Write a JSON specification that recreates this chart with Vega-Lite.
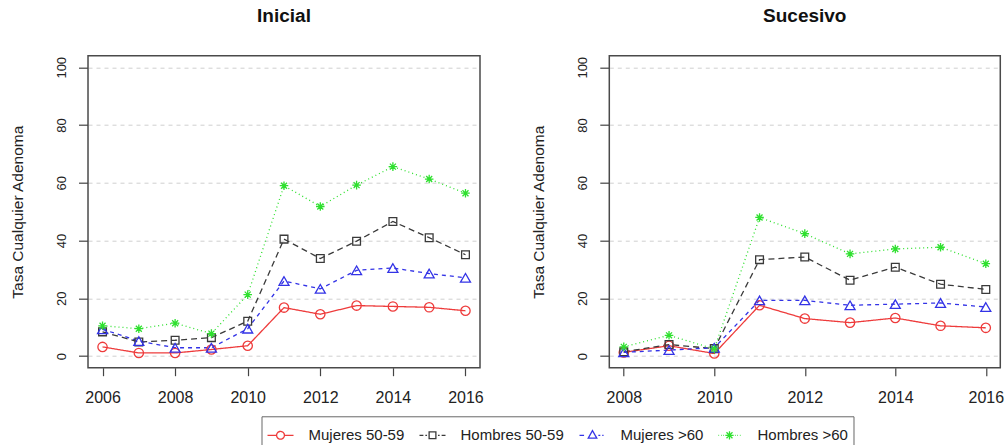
{
  "$schema": "https://vega.github.io/schema/vega-lite/v6.json",
  "background": "white",
  "padding": {"left": 9, "top": 5.7, "right": 0, "bottom": 0},
  "spacing": 129.3,
  "bounds": "flush",
  "config": {
    "font": "Liberation Sans",
    "view": {"stroke": "#4a4a4a", "strokeWidth": 1.5},
    "axis": {"domain": false, "tickColor": "#444444", "tickWidth": 1.2, "labelColor": "#222222", "titleColor": "#222222", "grid": false},
    "axisX": {"tickSize": 8, "labelFontSize": 16, "labelPadding": 14, "labelFlush": false},
    "axisY": {"tickSize": 9.5, "labelFontSize": 13, "labelAngle": 270, "labelAlign": "center", "labelBaseline": "bottom", "labelPadding": 10, "grid": true, "gridColor": "#cfcfcf", "gridDash": [4, 4], "gridWidth": 1, "titleFontSize": 15.5, "titleFontWeight": "normal", "titlePadding": 30.5},
    "title": {"fontSize": 19, "fontWeight": "bold", "color": "#111111", "anchor": "middle", "offset": 30, "baseline": "alphabetic"}
  },
  "datasets": {
    "tasas": [
      {"panel": "Inicial", "anio": 2006, "grupo": "Mujeres 50-59", "tasa": 3.2},
      {"panel": "Inicial", "anio": 2007, "grupo": "Mujeres 50-59", "tasa": 1.1},
      {"panel": "Inicial", "anio": 2008, "grupo": "Mujeres 50-59", "tasa": 1.1},
      {"panel": "Inicial", "anio": 2009, "grupo": "Mujeres 50-59", "tasa": 2.3},
      {"panel": "Inicial", "anio": 2010, "grupo": "Mujeres 50-59", "tasa": 3.6},
      {"panel": "Inicial", "anio": 2011, "grupo": "Mujeres 50-59", "tasa": 16.8},
      {"panel": "Inicial", "anio": 2012, "grupo": "Mujeres 50-59", "tasa": 14.5},
      {"panel": "Inicial", "anio": 2013, "grupo": "Mujeres 50-59", "tasa": 17.5},
      {"panel": "Inicial", "anio": 2014, "grupo": "Mujeres 50-59", "tasa": 17.2},
      {"panel": "Inicial", "anio": 2015, "grupo": "Mujeres 50-59", "tasa": 16.9},
      {"panel": "Inicial", "anio": 2016, "grupo": "Mujeres 50-59", "tasa": 15.7},
      {"panel": "Inicial", "anio": 2006, "grupo": "Hombres 50-59", "tasa": 8.4},
      {"panel": "Inicial", "anio": 2007, "grupo": "Hombres 50-59", "tasa": 4.9},
      {"panel": "Inicial", "anio": 2008, "grupo": "Hombres 50-59", "tasa": 5.5},
      {"panel": "Inicial", "anio": 2009, "grupo": "Hombres 50-59", "tasa": 6.4},
      {"panel": "Inicial", "anio": 2010, "grupo": "Hombres 50-59", "tasa": 12.1},
      {"panel": "Inicial", "anio": 2011, "grupo": "Hombres 50-59", "tasa": 40.5},
      {"panel": "Inicial", "anio": 2012, "grupo": "Hombres 50-59", "tasa": 33.8},
      {"panel": "Inicial", "anio": 2013, "grupo": "Hombres 50-59", "tasa": 39.8},
      {"panel": "Inicial", "anio": 2014, "grupo": "Hombres 50-59", "tasa": 46.6},
      {"panel": "Inicial", "anio": 2015, "grupo": "Hombres 50-59", "tasa": 41.0},
      {"panel": "Inicial", "anio": 2016, "grupo": "Hombres 50-59", "tasa": 35.1},
      {"panel": "Inicial", "anio": 2006, "grupo": "Mujeres >60", "tasa": 9.3},
      {"panel": "Inicial", "anio": 2007, "grupo": "Mujeres >60", "tasa": 5.2},
      {"panel": "Inicial", "anio": 2008, "grupo": "Mujeres >60", "tasa": 2.9},
      {"panel": "Inicial", "anio": 2009, "grupo": "Mujeres >60", "tasa": 2.9},
      {"panel": "Inicial", "anio": 2010, "grupo": "Mujeres >60", "tasa": 9.5},
      {"panel": "Inicial", "anio": 2011, "grupo": "Mujeres >60", "tasa": 26.0},
      {"panel": "Inicial", "anio": 2012, "grupo": "Mujeres >60", "tasa": 23.3},
      {"panel": "Inicial", "anio": 2013, "grupo": "Mujeres >60", "tasa": 29.7},
      {"panel": "Inicial", "anio": 2014, "grupo": "Mujeres >60", "tasa": 30.5},
      {"panel": "Inicial", "anio": 2015, "grupo": "Mujeres >60", "tasa": 28.6},
      {"panel": "Inicial", "anio": 2016, "grupo": "Mujeres >60", "tasa": 27.1},
      {"panel": "Inicial", "anio": 2006, "grupo": "Hombres >60", "tasa": 10.5},
      {"panel": "Inicial", "anio": 2007, "grupo": "Hombres >60", "tasa": 9.5},
      {"panel": "Inicial", "anio": 2008, "grupo": "Hombres >60", "tasa": 11.4},
      {"panel": "Inicial", "anio": 2009, "grupo": "Hombres >60", "tasa": 7.8},
      {"panel": "Inicial", "anio": 2010, "grupo": "Hombres >60", "tasa": 21.3},
      {"panel": "Inicial", "anio": 2011, "grupo": "Hombres >60", "tasa": 59.0},
      {"panel": "Inicial", "anio": 2012, "grupo": "Hombres >60", "tasa": 51.8},
      {"panel": "Inicial", "anio": 2013, "grupo": "Hombres >60", "tasa": 59.2},
      {"panel": "Inicial", "anio": 2014, "grupo": "Hombres >60", "tasa": 65.6},
      {"panel": "Inicial", "anio": 2015, "grupo": "Hombres >60", "tasa": 61.3},
      {"panel": "Inicial", "anio": 2016, "grupo": "Hombres >60", "tasa": 56.4},
      {"panel": "Sucesivo", "anio": 2008, "grupo": "Mujeres 50-59", "tasa": 1.3},
      {"panel": "Sucesivo", "anio": 2009, "grupo": "Mujeres 50-59", "tasa": 3.6},
      {"panel": "Sucesivo", "anio": 2010, "grupo": "Mujeres 50-59", "tasa": 0.9},
      {"panel": "Sucesivo", "anio": 2011, "grupo": "Mujeres 50-59", "tasa": 17.6},
      {"panel": "Sucesivo", "anio": 2012, "grupo": "Mujeres 50-59", "tasa": 13.0},
      {"panel": "Sucesivo", "anio": 2013, "grupo": "Mujeres 50-59", "tasa": 11.6},
      {"panel": "Sucesivo", "anio": 2014, "grupo": "Mujeres 50-59", "tasa": 13.2},
      {"panel": "Sucesivo", "anio": 2015, "grupo": "Mujeres 50-59", "tasa": 10.5},
      {"panel": "Sucesivo", "anio": 2016, "grupo": "Mujeres 50-59", "tasa": 9.8},
      {"panel": "Sucesivo", "anio": 2008, "grupo": "Hombres 50-59", "tasa": 1.5},
      {"panel": "Sucesivo", "anio": 2009, "grupo": "Hombres 50-59", "tasa": 4.0},
      {"panel": "Sucesivo", "anio": 2010, "grupo": "Hombres 50-59", "tasa": 2.6},
      {"panel": "Sucesivo", "anio": 2011, "grupo": "Hombres 50-59", "tasa": 33.4},
      {"panel": "Sucesivo", "anio": 2012, "grupo": "Hombres 50-59", "tasa": 34.3},
      {"panel": "Sucesivo", "anio": 2013, "grupo": "Hombres 50-59", "tasa": 26.3},
      {"panel": "Sucesivo", "anio": 2014, "grupo": "Hombres 50-59", "tasa": 30.8},
      {"panel": "Sucesivo", "anio": 2015, "grupo": "Hombres 50-59", "tasa": 24.9},
      {"panel": "Sucesivo", "anio": 2016, "grupo": "Hombres 50-59", "tasa": 23.1},
      {"panel": "Sucesivo", "anio": 2008, "grupo": "Mujeres >60", "tasa": 1.3},
      {"panel": "Sucesivo", "anio": 2009, "grupo": "Mujeres >60", "tasa": 2.1},
      {"panel": "Sucesivo", "anio": 2010, "grupo": "Mujeres >60", "tasa": 2.9},
      {"panel": "Sucesivo", "anio": 2011, "grupo": "Mujeres >60", "tasa": 19.3},
      {"panel": "Sucesivo", "anio": 2012, "grupo": "Mujeres >60", "tasa": 19.3},
      {"panel": "Sucesivo", "anio": 2013, "grupo": "Mujeres >60", "tasa": 17.6},
      {"panel": "Sucesivo", "anio": 2014, "grupo": "Mujeres >60", "tasa": 18.0},
      {"panel": "Sucesivo", "anio": 2015, "grupo": "Mujeres >60", "tasa": 18.4},
      {"panel": "Sucesivo", "anio": 2016, "grupo": "Mujeres >60", "tasa": 17.0},
      {"panel": "Sucesivo", "anio": 2008, "grupo": "Hombres >60", "tasa": 3.2},
      {"panel": "Sucesivo", "anio": 2009, "grupo": "Hombres >60", "tasa": 7.2},
      {"panel": "Sucesivo", "anio": 2010, "grupo": "Hombres >60", "tasa": 2.5},
      {"panel": "Sucesivo", "anio": 2011, "grupo": "Hombres >60", "tasa": 48.0},
      {"panel": "Sucesivo", "anio": 2012, "grupo": "Hombres >60", "tasa": 42.4},
      {"panel": "Sucesivo", "anio": 2013, "grupo": "Hombres >60", "tasa": 35.4},
      {"panel": "Sucesivo", "anio": 2014, "grupo": "Hombres >60", "tasa": 37.1},
      {"panel": "Sucesivo", "anio": 2015, "grupo": "Hombres >60", "tasa": 37.7},
      {"panel": "Sucesivo", "anio": 2016, "grupo": "Hombres >60", "tasa": 32.0}
    ]
  },
  "data": {"name": "tasas"},
  "hconcat": [
    {
      "width": 392,
      "height": 312,
      "title": {"text": "Inicial"},
      "transform": [{"filter": "datum.panel === 'Inicial'"}],
      "encoding": {
        "x": {"field": "anio", "type": "quantitative", "scale": {"domain": [2005.6, 2016.4], "nice": false, "zero": false}, "axis": {"values": [2006, 2008, 2010, 2012, 2014, 2016], "format": "d", "title": null}},
        "y": {"field": "tasa", "type": "quantitative", "scale": {"domain": [-4, 104], "nice": false, "zero": false}, "axis": {"values": [0, 20, 40, 60, 80, 100], "title": "Tasa Cualquier Adenoma"}},
        "color": {
          "field": "grupo", "type": "nominal",
          "scale": {"domain": ["Mujeres 50-59", "Hombres 50-59", "Mujeres >60", "Hombres >60"], "range": ["#ee3b3b", "#3a3a3a", "#3333e6", "#2ee02e"]},
          "legend": {
            "title": null, "orient": "none", "legendX": 173.5, "legendY": 360.6, "direction": "horizontal", "columns": 4,
            "symbolSize": 676, "symbolStrokeWidth": 1.3, "labelFontSize": 15, "labelColor": "#222222", "labelOffset": 14, "columnPadding": 12,
            "padding": 5, "strokeColor": "#666666",
            "encode": {"symbols": {"update": {
              "fill": {"value": "transparent"},
              "size": {"value": 676},
              "strokeDash": {"value": [1, 0]},
              "shape": {"signal": "datum.value === 'Mujeres 50-59' ? 'M-1,0L-0.33,0M0.33,0L1,0M0.3,0A0.3,0.3 0 1,1 -0.3,0A0.3,0.3 0 1,1 0.3,0' : datum.value === 'Hombres 50-59' ? 'M-1,0L-0.7,0M-0.55,0L-0.42,0M0.42,0L0.55,0M0.7,0L1,0M-0.26,-0.26L0.26,-0.26L0.26,0.26L-0.26,0.26Z' : datum.value === 'Mujeres >60' ? 'M-1,0L-0.65,0M0.45,0L0.6,0M0.75,0L0.85,0M0,-0.36L0.33,0.22L-0.33,0.22Z' : 'M-0.85,0L-0.8,0M-0.65,0L-0.6,0M-0.47,0L-0.42,0M0.42,0L0.47,0M0.6,0L0.65,0M0.8,0L0.85,0M-0.32,0L0.32,0M0,-0.32L0,0.32M-0.23,-0.23L0.23,0.23M-0.23,0.23L0.23,-0.23'"}
            }}}
          }
        }
      },
      "layer": [
        {"mark": {"type": "line", "strokeWidth": 1.3}, "encoding": {"strokeDash": {"field": "grupo", "type": "nominal", "scale": {"range": [[6, 4], [1, 3], [1, 0], [4, 4]]}, "legend": null}}},
        {"mark": {"type": "point", "filled": false, "strokeWidth": 1.3, "opacity": 1}, "encoding": {
          "shape": {"field": "grupo", "type": "nominal", "scale": {"range": ["square", "M-1,0L1,0M0,-1L0,1M-0.7,-0.7L0.7,0.7M-0.7,0.7L0.7,-0.7", "circle", "triangle-up"]}, "legend": null},
          "size": {"field": "grupo", "type": "ordinal", "scale": {"range": [60, 100, 95, 110]}, "legend": null}
        }}
      ]
    },
    {
      "width": 391,
      "height": 312,
      "title": {"text": "Sucesivo"},
      "transform": [{"filter": "datum.panel === 'Sucesivo'"}],
      "encoding": {
        "x": {"field": "anio", "type": "quantitative", "scale": {"domain": [2007.68, 2016.32], "nice": false, "zero": false}, "axis": {"values": [2008, 2010, 2012, 2014, 2016], "format": "d", "title": null}},
        "y": {"field": "tasa", "type": "quantitative", "scale": {"domain": [-4, 104], "nice": false, "zero": false}, "axis": {"values": [0, 20, 40, 60, 80, 100], "title": "Tasa Cualquier Adenoma"}},
        "color": {
          "field": "grupo", "type": "nominal",
          "scale": {"domain": ["Mujeres 50-59", "Hombres 50-59", "Mujeres >60", "Hombres >60"], "range": ["#ee3b3b", "#3a3a3a", "#3333e6", "#2ee02e"]},
          "legend": {
            "title": null, "orient": "none", "legendX": 173.5, "legendY": 360.6, "direction": "horizontal", "columns": 4,
            "symbolSize": 676, "symbolStrokeWidth": 1.3, "labelFontSize": 15, "labelColor": "#222222", "labelOffset": 14, "columnPadding": 12,
            "padding": 5, "strokeColor": "#666666",
            "encode": {"symbols": {"update": {
              "fill": {"value": "transparent"},
              "size": {"value": 676},
              "strokeDash": {"value": [1, 0]},
              "shape": {"signal": "datum.value === 'Mujeres 50-59' ? 'M-1,0L-0.33,0M0.33,0L1,0M0.3,0A0.3,0.3 0 1,1 -0.3,0A0.3,0.3 0 1,1 0.3,0' : datum.value === 'Hombres 50-59' ? 'M-1,0L-0.7,0M-0.55,0L-0.42,0M0.42,0L0.55,0M0.7,0L1,0M-0.26,-0.26L0.26,-0.26L0.26,0.26L-0.26,0.26Z' : datum.value === 'Mujeres >60' ? 'M-1,0L-0.65,0M0.45,0L0.6,0M0.75,0L0.85,0M0,-0.36L0.33,0.22L-0.33,0.22Z' : 'M-0.85,0L-0.8,0M-0.65,0L-0.6,0M-0.47,0L-0.42,0M0.42,0L0.47,0M0.6,0L0.65,0M0.8,0L0.85,0M-0.32,0L0.32,0M0,-0.32L0,0.32M-0.23,-0.23L0.23,0.23M-0.23,0.23L0.23,-0.23'"}
            }}}
          }
        }
      },
      "layer": [
        {"mark": {"type": "line", "strokeWidth": 1.3}, "encoding": {"strokeDash": {"field": "grupo", "type": "nominal", "scale": {"range": [[6, 4], [1, 3], [1, 0], [4, 4]]}, "legend": null}}},
        {"mark": {"type": "point", "filled": false, "strokeWidth": 1.3, "opacity": 1}, "encoding": {
          "shape": {"field": "grupo", "type": "nominal", "scale": {"range": ["square", "M-1,0L1,0M0,-1L0,1M-0.7,-0.7L0.7,0.7M-0.7,0.7L0.7,-0.7", "circle", "triangle-up"]}, "legend": null},
          "size": {"field": "grupo", "type": "ordinal", "scale": {"range": [60, 100, 95, 110]}, "legend": null}
        }}
      ]
    }
  ]
}
